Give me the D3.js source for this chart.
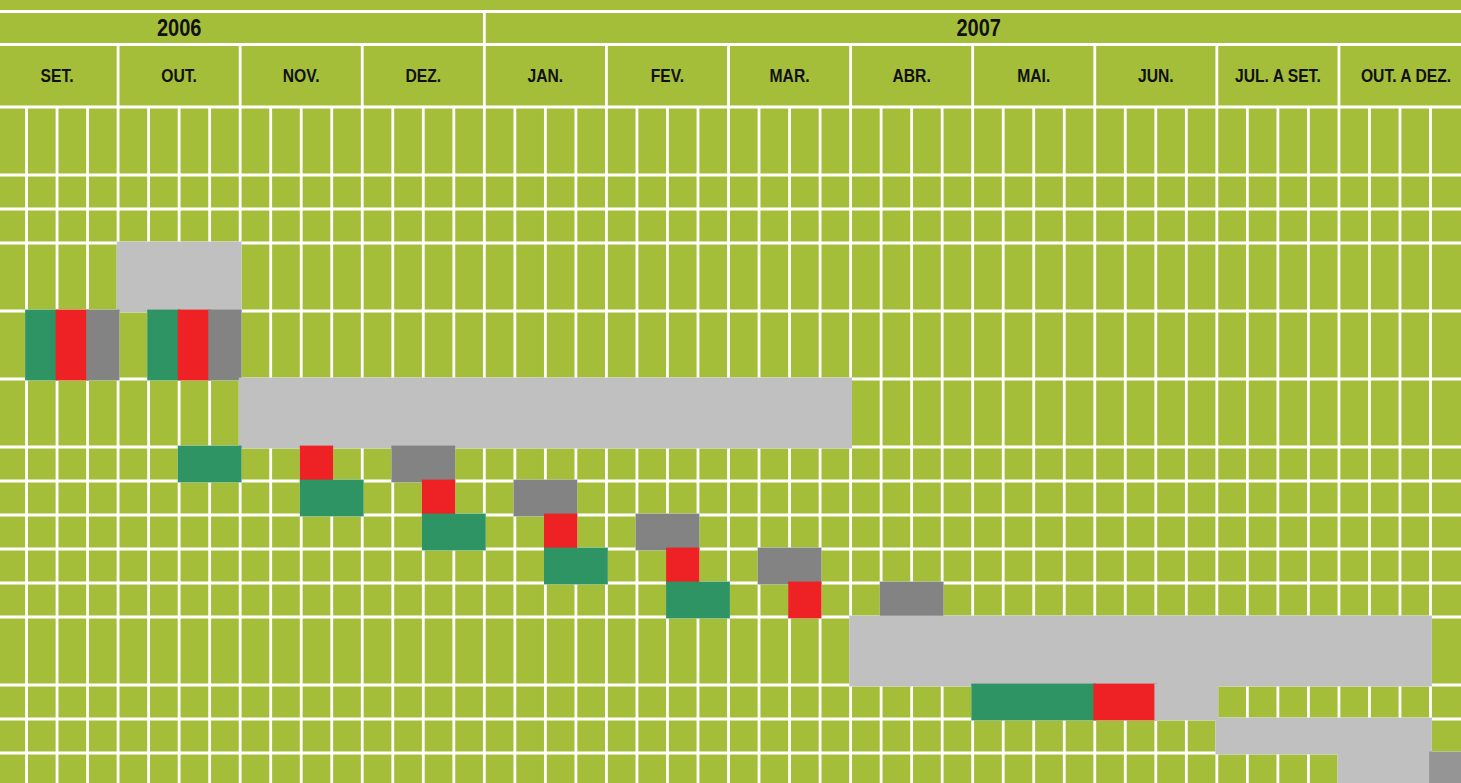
<!DOCTYPE html>
<html>
<head>
<meta charset="utf-8">
<script src="https://cdn.jsdelivr.net/npm/d3@7"></script>
<style>
  html, body { margin: 0; padding: 0; background: #A5BE3A; overflow: hidden; }
  svg { display: block; }
  text { font-family: "Liberation Sans Narrow", "Arial Narrow", "Liberation Sans", Arial, sans-serif; font-weight: bold; fill: #111; }
</style>
</head>
<body>
<svg id="chart" width="1461" height="783"></svg>
<script>
// ---------- data ----------
const years = ["2006", "2007"];
const yearStartWeek = [0, 16];
const yearEndWeek = [16, 48];
const yearLabelFrom = [0, 16];
const yearLabelTo = [12, 48];

const months = ["SET.", "OUT.", "NOV.", "DEZ.", "JAN.", "FEV.", "MAR.", "ABR.", "MAI.", "JUN.", "JUL. A SET.", "OUT. A DEZ."];
const weeksPerMonth = 4;

// relative height of each activity row (in row units)
const rowUnits = [2, 1, 1, 2, 2, 2, 1, 1, 1, 1, 1, 2, 1, 1, 1];

// tasks: row index, start week, end week (global week index), type
const taskRow   = [3,  4, 4, 4, 4, 4, 4,  5,   6, 6, 6,   7, 7, 7,   8, 8, 8,   9, 9, 9,   10, 10, 10,  11,  12, 12, 12,  13,  14, 14];
const taskStart = [4,  1, 2, 3, 5, 6, 7,  8,   6, 10, 13, 10, 14, 17, 14, 18, 21, 18, 22, 25, 22, 26, 29,  28,  32, 36, 38,  40,  44, 47];
const taskEnd   = [8,  2, 3, 4, 6, 7, 8,  28,  8, 11, 15, 12, 15, 19, 16, 19, 23, 20, 23, 27, 24, 27, 31,  47,  36, 38, 40,  47,  47, 48];
const taskType  = ["fase",
  "prep", "rev", "apr", "prep", "rev", "apr",
  "fase",
  "prep", "rev", "apr",
  "prep", "rev", "apr",
  "prep", "rev", "apr",
  "prep", "rev", "apr",
  "prep", "rev", "apr",
  "fase",
  "prep", "rev", "fase",
  "fase",
  "fase", "fim"];

const typeColors = { fase: "#C0C0C0", prep: "#2E9464", rev: "#EE2224", apr: "#838383", fim: "#959595" };

// ---------- layout ----------
const W = 1461, H = 783;
const totalWeeks = months.length * weeksPerMonth;
const x = d3.scaleLinear().domain([0, totalWeeks - 1, totalWeeks]).range([-4, 1430.5, 1473]);
const totalUnits = d3.sum(rowUnits);
const y = d3.scaleLinear().domain([0, totalUnits]).range([107, 787]);
const yTop = 11.5, yMid = 44.5, yHead = 107;
const lineW = 2.8;
const squeeze = 0.87;

const svg = d3.select("#chart");
svg.append("rect").attr("width", W).attr("height", H).attr("fill", "#A5BE3A");

const grid = svg.append("g").attr("stroke", "#fff").attr("stroke-width", lineW);

// header horizontal lines
grid.selectAll("line.hh").data([yTop, yMid, yHead]).join("line")
  .attr("x1", 0).attr("x2", W).attr("y1", d => d).attr("y2", d => d);

// year separators (within year row)
grid.selectAll("line.ys").data(yearStartWeek.filter(w => w > 0)).join("line")
  .attr("x1", d => x(d)).attr("x2", d => x(d)).attr("y1", yTop).attr("y2", yMid);

// month separators
const monthBounds = d3.range(1, months.length).map(m => m * weeksPerMonth);
grid.selectAll("line.ms").data(monthBounds).join("line")
  .attr("x1", d => x(d)).attr("x2", d => x(d)).attr("y1", yMid).attr("y2", H);

// week separators
const weekBounds = d3.range(1, totalWeeks).filter(w => w % weeksPerMonth !== 0);
grid.selectAll("line.ws").data(weekBounds).join("line")
  .attr("x1", d => x(d)).attr("x2", d => x(d)).attr("y1", yHead).attr("y2", H);

// row separators
const cum = d3.cumsum(rowUnits);
grid.selectAll("line.rs").data(Array.from(cum)).join("line")
  .attr("x1", 0).attr("x2", W).attr("y1", d => y(d)).attr("y2", d => y(d));

// task bars
const rowStart = [0, ...Array.from(cum)];
const tasks = taskRow.map((r, i) => ({ r, s: taskStart[i], e: taskEnd[i], t: taskType[i] }));
svg.append("g").selectAll("rect").data(tasks).join("rect")
  .attr("x", d => x(d.s) - lineW / 2)
  .attr("y", d => y(rowStart[d.r]) - lineW / 2)
  .attr("width", d => x(d.e) - x(d.s) + lineW)
  .attr("height", d => y(rowStart[d.r + 1]) - y(rowStart[d.r]) + lineW)
  .attr("fill", d => typeColors[d.t]);

// year labels
svg.append("g").selectAll("text").data(years).join("text")
  .attr("transform", (d, i) => `translate(${(x(yearLabelFrom[i]) + x(yearLabelTo[i])) / 2},${(yTop + yMid) / 2}) scale(${squeeze},1)`)
  .attr("dy", "0.36em")
  .attr("text-anchor", "middle")
  .attr("font-size", 23)
  .text(d => d);

// month labels
svg.append("g").selectAll("text").data(months).join("text")
  .attr("transform", (d, i) => `translate(${(x(i * weeksPerMonth) + x((i + 1) * weeksPerMonth)) / 2},${(yMid + yHead) / 2}) scale(${squeeze},1)`)
  .attr("dy", "0.36em")
  .attr("text-anchor", "middle")
  .attr("font-size", 18)
  .text(d => d);
</script>
</body>
</html>
